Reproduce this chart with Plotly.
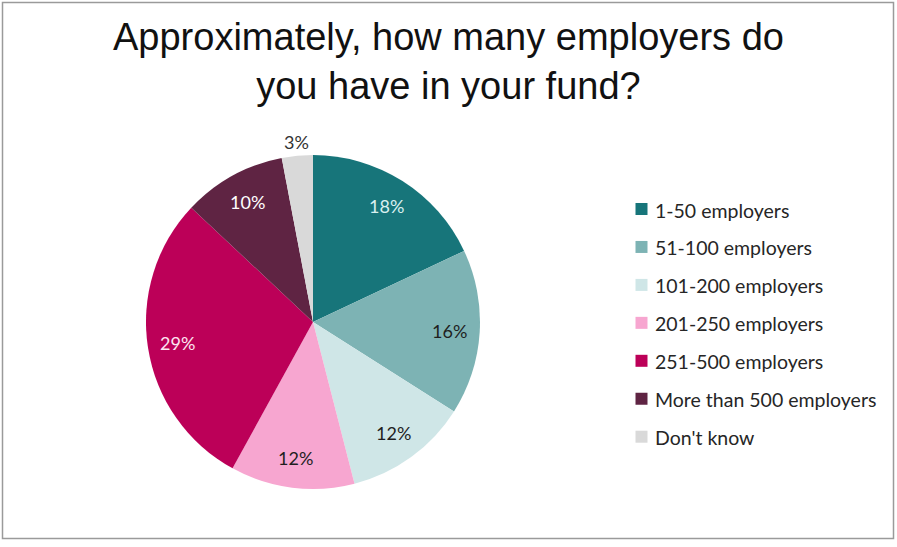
import math
import plotly.graph_objects as go

# Survey answers and shares (percent)
categories = ["1-50 employers", "51-100 employers", "101-200 employers",
              "201-250 employers", "251-500 employers",
              "More than 500 employers", "Don't know"]
shares = [18, 16, 12, 12, 29, 10, 3]
slice_colors = ["#17757a", "#7db3b4", "#cfe6e7", "#f7a6d0",
                "#bc0058", "#5f2443", "#d9d9d9"]
label_colors = ["#d9f0f0", "#1f1f1f", "#1f1f1f", "#1f1f1f",
                "#fde3f0", "#ffffff", "#333333"]

W, H = 897, 547
# pie placement (pixels)
cx, cy, R = 313, 322, 167

fig = go.Figure(go.Pie(
    labels=categories,
    values=shares,
    sort=False,
    direction="clockwise",
    rotation=0,
    marker=dict(colors=slice_colors, line=dict(width=0)),
    textinfo="none",
    hoverinfo="label+percent",
    showlegend=False,
    domain=dict(x=[(cx - R) / W, (cx + R) / W],
                y=[(H - cy - R) / H, (H - cy + R) / H]),
))

annotations = []
total = sum(shares)
start = 0.0
for name, v, tc in zip(categories, shares, label_colors):
    mid = (start + v / 2) / total * 2 * math.pi
    start += v
    k = 0.82 if v / total > 0.05 else 1.08
    px = cx + k * R * math.sin(mid)
    py = cy - k * R * math.cos(mid)
    annotations.append(dict(
        x=px / W, y=1 - py / H, xref="paper", yref="paper",
        text=f"{round(v / total * 100)}%", showarrow=False,
        font=dict(family="Lato, sans-serif", size=18, color=tc),
        xanchor="center", yanchor="middle"))

# legend drawn as swatches + labels
shapes = []
leg_x, leg_y0, leg_dy = 641.5, 209, 37.95
for i, (name, col) in enumerate(zip(categories, slice_colors)):
    y = leg_y0 + i * leg_dy
    shapes.append(dict(type="rect", xref="paper", yref="paper",
                       x0=(leg_x - 6) / W, x1=(leg_x + 6) / W,
                       y0=1 - (y + 6) / H, y1=1 - (y - 6) / H,
                       fillcolor=col, line=dict(width=0)))
    annotations.append(dict(
        x=(leg_x + 11) / W, y=1 - (y + 1) / H, xref="paper", yref="paper",
        text=name, showarrow=False, xanchor="left", yanchor="middle",
        font=dict(family="Lato, sans-serif", size=19.5, color="#262626")))

# outer frame
shapes.append(dict(type="rect", xref="paper", yref="paper",
                   x0=2.5 / W, x1=893.5 / W, y0=1 - 538.5 / H, y1=1 - 2.5 / H,
                   line=dict(color="#9a9a9a", width=1.5), fillcolor="rgba(0,0,0,0)"))

annotations.append(dict(
    x=448 / W, y=1 - 62 / H, xref="paper", yref="paper",
    text="Approximately, how many employers do<br>you have in your fund?",
    showarrow=False, xanchor="center", yanchor="middle",
    font=dict(family="Liberation Sans, Arial, sans-serif", size=38, color="#111111")))

fig.update_layout(
    width=W, height=H,
    margin=dict(l=0, r=0, t=0, b=0),
    paper_bgcolor="white",
    plot_bgcolor="white",
    annotations=annotations,
    shapes=shapes,
)

fig.write_html("out.html")
